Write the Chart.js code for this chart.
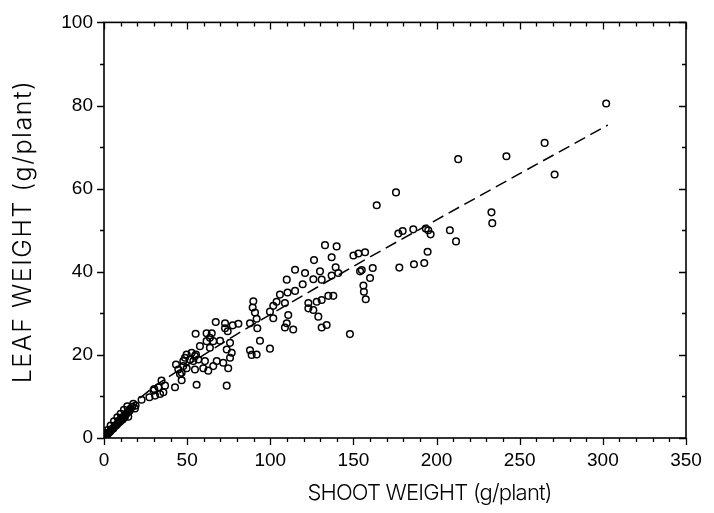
<!DOCTYPE html>
<html>
<head>
<meta charset="utf-8">
<script src="https://cdn.jsdelivr.net/npm/chart.js@4.4.1/dist/chart.umd.min.js"></script>
<style>
html,body{margin:0;padding:0;background:#fff;}
#wrap{width:714px;height:513px;}
</style>
</head>
<body>
<div id="wrap"><canvas id="c" width="714" height="513"></canvas></div>
<script>
const shootWeight = [
  302,265,271,242,213,175.6,164,233,233.5,208,211.7,195,193.5,196.4,186,179.6,177,194.6,192.6,186.4,177.6,161.6,157,155,160,
  132.9,139.9,136.9,126.3,114.9,120.9,129.9,139.3,140.9,136.9,150,153,154,156,156.3,157.4,125.9,130.9,119.5,109.9,114.9,110.4,105.8,103.8,108.8,101.8,99.8,101.8,110.8,122.9,122.9,127.9,130.9,134.9,137.9,125.9,128.9,109.9,108.8,113.8,130.9,133.9,147.9,
  89.8,89.4,90.8,91.8,87.8,92.2,67.2,72.8,77.4,80.8,72.8,74.4,55.1,61.7,64.8,63.7,61.7,65.7,69.8,75.8,93.8,73.8,76.8,75.8,87.8,88.8,91.8,99.8,57.7,63.7,52.7,55.3,49.7,47.7,53.7,56.7,60.7,67.8,65.7,71.7,49.7,54.7,59.7,62.7,74.7,46.7,55.7,73.8,46.7,
  42.7,45.7,43.3,44.7,47.7,51.7,54.7,48.7,34.6,36.7,32.7,29.7,30.7,33.7,35.7,22.6,27.3,30.2,17.6,18.6,15.6,13.6,14.6,11.6,9.6,7.6,5.6,3.6,1.6,
  0.5,1,2,2.5,3,4,4.5,5,6,6.5,7,8,8.5,9,10,10.5,11,12,12.5,13,14,15,16,17,19,0.3,1.2,2.5,4,6,8,10,12,14
];
const leafWeight = [
  80.5,71,63.4,67.8,67.1,59.1,56,54.3,51.7,50,47.3,50,50.4,49,50.2,49.8,49.2,44.8,42.1,41.8,41,40.9,44.7,40.4,38.5,
  46.4,46.1,43.5,42.8,40.5,39.7,40.1,41.1,39.7,39.1,43.9,44.4,40.1,36.7,35.2,33.4,38.2,38.1,37,38.1,35.4,35,34.5,32.8,32.5,31.8,30.4,28.8,29.6,32.5,31.2,32.8,33.2,34.2,34.2,30.8,29.2,27.6,26.6,26.1,26.6,27.2,25,
  32.9,31.4,30.2,28.7,27.6,26.4,27.9,27.6,27.1,27.5,26.4,25.7,25.1,25.2,25.2,24.1,23.3,23.3,23.4,22.9,23.4,21.3,20.5,19.3,21.1,20,20.1,21.5,22.1,21.7,20.5,20.1,20.1,18.5,18.5,18.9,18.5,18.5,17.3,18.1,16.8,16.5,16.8,16.2,16.8,13.9,12.8,12.6,15.7,
  12.2,15.4,17.7,16.5,17.3,18.9,19.7,19.3,13.8,12.6,12.2,11.4,10.2,10.6,11,9.2,9.8,11.8,8.2,7.1,6.7,5.9,5.1,4.7,3.9,3.1,2.3,1.5,0.7,
  0.2,0.4,0.9,1.1,1.3,1.8,2,2.2,2.6,2.8,3,3.4,3.6,4.2,4.3,4.8,4.4,5.3,5,5.6,6.2,6.4,7.1,7.5,7.8,0.6,1.2,2,3,4,5,5.8,6.8,7.6
];
// Fitted dashed curve
const fitX = [0,5,10,20,30,40,60,80,100,150,200,250,303];
const fitY = [0,2.8,5.2,9,12.3,15,20,25,29.7,41.3,52.5,63.6,75.3];
// Axis tick values and titles
const xMajorTicks = [0,50,100,150,200,250,300,350];
const yMajorTicks = [0,20,40,60,80,100];
const xMinorStep = 10;
const yMinorStep = 10;
const xTitle = 'SHOOT WEIGHT (g/plant)';
const yTitle = 'LEAF WEIGHT (g/plant)';

const scatterData = shootWeight.map((x,i)=>({x:x,y:leafWeight[i]}));
const fitData = fitX.map((x,i)=>({x:x,y:fitY[i]}));

const TICKFONT = "'Liberation Sans', Arial, sans-serif";

function spacedText(ctx, text, font, targetW, x, y){
  ctx.font = font;
  ctx.letterSpacing = '0px';
  const w = ctx.measureText(text).width;
  const ls = (targetW - w) / (text.length - 1);
  ctx.letterSpacing = ls.toFixed(2) + 'px';
  ctx.fillText(text, x + ls/2, y);
  ctx.letterSpacing = '0px';
}

const tickPlugin = {
  id:'ticksDraw',
  afterDraw(chart){
    const ctx = chart.ctx, xs = chart.scales.x, ys = chart.scales.y, a = chart.chartArea;
    ctx.save();
    ctx.strokeStyle = '#000';
    ctx.lineWidth = 1.3;
    ctx.beginPath();
    for(let v=xs.min; v<=xs.max+1e-9; v+=xMinorStep){
      const p = Math.round(xs.getPixelForValue(v))+0.5;
      const major = xMajorTicks.includes(v);
      const L = major?7:4;
      ctx.moveTo(p,a.bottom); ctx.lineTo(p,a.bottom+L);
      ctx.moveTo(p,a.top); ctx.lineTo(p,a.top+L);
    }
    for(let v=ys.min; v<=ys.max+1e-9; v+=yMinorStep){
      const p = Math.round(ys.getPixelForValue(v))+0.5;
      const major = yMajorTicks.includes(v);
      const L = major?7:4;
      ctx.moveTo(a.left,p); ctx.lineTo(a.left-L,p);
      ctx.moveTo(a.right,p); ctx.lineTo(a.right-L,p);
    }
    ctx.stroke();
    ctx.lineWidth = 1.6;
    ctx.strokeRect(a.left, a.top, a.right-a.left, a.bottom-a.top);
    // axis titles
    ctx.fillStyle = '#000';
    ctx.textAlign = 'center';
    ctx.textBaseline = 'middle';
    spacedText(ctx, xTitle, "300 22px Inter, 'DejaVu Sans', sans-serif", 245, xs.getPixelForValue(196), 493);
    ctx.translate(23, ys.getPixelForValue(49.5));
    ctx.rotate(-Math.PI/2);
    spacedText(ctx, yTitle, "300 25px Inter, 'DejaVu Sans', sans-serif", 302, 0, 0);
    ctx.restore();
  }
};

new Chart(document.getElementById('c'),{
  type:'scatter',
  data:{datasets:[
    {type:'scatter',data:scatterData,pointStyle:'circle',pointRadius:3.3,pointBorderWidth:1.5,
     pointBorderColor:'#000',pointBackgroundColor:'rgba(0,0,0,0)',borderColor:'#000',order:1},
    {type:'line',data:fitData,borderColor:'#000',borderWidth:1.5,borderDash:[12,6],pointRadius:0,
     fill:false,cubicInterpolationMode:'monotone',order:2}
  ]},
  options:{
    responsive:false,animation:false,
    layout:{padding:{top:17,right:28,left:0,bottom:0}},
    plugins:{legend:{display:false},tooltip:{enabled:false}},
    scales:{
      x:{type:'linear',min:0,max:350,
        afterBuildTicks(s){ s.ticks = xMajorTicks.map(v=>({value:v})); },
        afterFit(s){ s.height = 75; },
        grid:{display:false,drawTicks:false},
        border:{display:false},
        ticks:{color:'#000',padding:11,maxRotation:0,font:{family:TICKFONT,size:19}},
        title:{display:false}
      },
      y:{type:'linear',min:0,max:100,
        afterBuildTicks(s){ s.ticks = yMajorTicks.map(v=>({value:v})); },
        afterFit(s){ s.width = 104; },
        grid:{display:false,drawTicks:false},
        border:{display:false},
        ticks:{color:'#000',padding:11,font:{family:TICKFONT,size:19}},
        title:{display:false}
      }
    }
  },
  plugins:[tickPlugin]
});
</script>
</body>
</html>
